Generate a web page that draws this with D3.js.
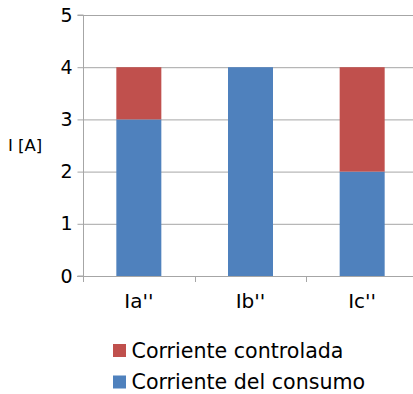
<!DOCTYPE html>
<html>
<head>
<meta charset="utf-8">
<script src="https://cdn.jsdelivr.net/npm/d3@7"></script>
<style>
  html, body { margin: 0; padding: 0; background: #fff; }
  svg { display: block; font-family: "DejaVu Sans", sans-serif; }
</style>
</head>
<body>
<svg id="chart" width="413" height="394"></svg>
<script>
// Phase currents split into consumption and controlled parts
const categories = ["Ia''", "Ib''", "Ic''"];
const consumo = [3, 4, 2];      // Corriente del consumo
const controlada = [1, 0, 2];   // Corriente controlada
const yTicks = [0, 1, 2, 3, 4, 5];
const seriesNames = ["Corriente controlada", "Corriente del consumo"];
const seriesColors = ["#C0504D", "#4F81BD"];

const svg = d3.select("#chart");
const plotLeft = 83, plotRight = 418, plotTop = 15, plotBottom = 276;

const x = d3.scaleBand().domain(categories).range([plotLeft, plotRight]).paddingInner(0).paddingOuter(0);
const y = d3.scaleLinear().domain([0, 5]).range([plotBottom, plotTop]);
const barW = 45;

// Horizontal gridlines
svg.append("g").selectAll("line").data(yTicks.filter(d => d > 0)).join("line")
  .attr("x1", plotLeft).attr("x2", plotRight)
  .attr("y1", d => y(d) + 0.5).attr("y2", d => y(d) + 0.5)
  .attr("stroke", "#a6a6a6").attr("stroke-width", 1);

// Stacked bars
const rows = categories.map((c, i) => ({ cat: c, consumo: consumo[i], controlada: controlada[i] }));
const stack = d3.stack().keys(["consumo", "controlada"])(rows);
const color = { consumo: "#4F81BD", controlada: "#C0504D" };

svg.append("g").selectAll("g").data(stack).join("g")
  .attr("fill", d => color[d.key])
  .selectAll("rect").data(d => d.filter(s => s[1] > s[0])).join("rect")
  .attr("x", d => x(d.data.cat) + x.bandwidth() / 2 - barW / 2)
  .attr("width", barW)
  .attr("y", d => y(d[1]))
  .attr("height", d => y(d[0]) - y(d[1]));

// Y axis
const yAxis = d3.axisLeft(y).tickValues(yTicks).tickSize(6).tickPadding(5).tickFormat(d3.format("d"));
const gy = svg.append("g").attr("transform", `translate(${plotLeft + 0.5},0)`).call(yAxis);
gy.select(".domain").attr("stroke", "#a6a6a6").attr("d", `M-6,${plotTop}H0V${plotBottom}H-6`);
gy.selectAll(".tick line").attr("stroke", "#a6a6a6");
gy.selectAll(".tick text").attr("font-size", 19).attr("fill", "#000").attr("font-family", "DejaVu Sans, sans-serif");

// X axis: baseline with boundary ticks between categories
const gx = svg.append("g");
gx.append("line").attr("x1", plotLeft - 6).attr("x2", plotRight)
  .attr("y1", plotBottom + 0.5).attr("y2", plotBottom + 0.5).attr("stroke", "#a6a6a6");
gx.selectAll("line.sep").data(categories.slice(1)).join("line").attr("class", "sep")
  .attr("x1", d => Math.round(x(d)) + 0.5).attr("x2", d => Math.round(x(d)) + 0.5)
  .attr("y1", plotBottom).attr("y2", plotBottom + 6).attr("stroke", "#a6a6a6");
gx.append("line").attr("x1", plotLeft + 0.5).attr("x2", plotLeft + 0.5)
  .attr("y1", plotBottom).attr("y2", plotBottom + 6).attr("stroke", "#a6a6a6");
gx.selectAll("text").data(categories).join("text")
  .attr("x", d => x(d) + x.bandwidth() / 2)
  .attr("y", 308)
  .attr("text-anchor", "middle")
  .attr("font-size", 20)
  .attr("fill", "#000")
  .text(d => d);

// Axis title
svg.append("text").attr("x", 8).attr("y", 151)
  .attr("font-size", 16.5).attr("fill", "#000").text("I [A]");

// Legend
const lg = svg.append("g").selectAll("g").data(seriesNames).join("g")
  .attr("transform", (d, i) => `translate(113,${350 + i * 31.5})`);
lg.append("rect").attr("x", 0).attr("y", -6).attr("width", 13).attr("height", 13)
  .attr("fill", (d, i) => seriesColors[i]);
lg.append("text").attr("x", 18.5).attr("y", 7.5)
  .attr("font-size", 20.6).attr("fill", "#000").text(d => d);
</script>
</body>
</html>
